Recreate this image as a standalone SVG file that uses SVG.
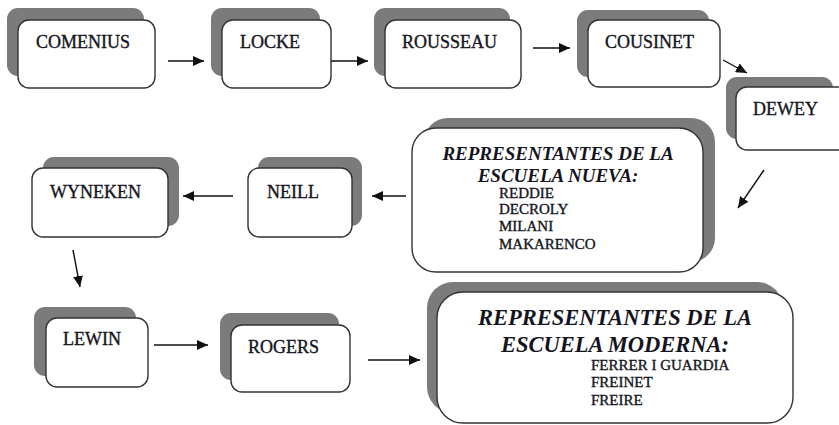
<svg xmlns="http://www.w3.org/2000/svg" width="839" height="425" viewBox="0 0 839 425">
  <style>
    .shadow { fill: #7b7b7b; }
    .box { fill: #ffffff; stroke: #333333; stroke-width: 1.4; }
    .name { font-family: "Liberation Serif", "Times New Roman", serif; font-size: 18px; fill: #141420; stroke: #141420; stroke-width: 0.35; }
    .head { font-family: "Liberation Serif", "Times New Roman", serif; font-weight: bold; font-style: italic; fill: #141420; text-anchor: middle; }
    .item { font-family: "Liberation Serif", "Times New Roman", serif; font-size: 15px; fill: #141420; stroke: #141420; stroke-width: 0.35; }
    .link { fill: none; stroke: #111111; stroke-width: 1.4; marker-end: url(#arrow); }
  </style>
  <defs>
    <marker id="arrow" markerUnits="userSpaceOnUse" markerWidth="12" markerHeight="10" refX="11" refY="5" orient="auto">
      <path d="M0,0 L11,5 L0,10 Z" fill="#111111"/>
    </marker>
  </defs>
  <rect width="839" height="425" fill="#ffffff"/>

  <g id="comenius">
    <rect class="shadow" x="7" y="8" width="137" height="68" rx="11"/>
    <rect class="box" x="18" y="20" width="137" height="68" rx="11"/>
    <text class="name" x="36" y="48">COMENIUS</text>
  </g>
  <g id="locke">
    <rect class="shadow" x="211" y="8" width="109" height="68" rx="11"/>
    <rect class="box" x="222" y="20" width="109" height="68" rx="11"/>
    <text class="name" x="240" y="48">LOCKE</text>
  </g>
  <g id="rousseau">
    <rect class="shadow" x="374" y="8" width="136" height="68" rx="11"/>
    <rect class="box" x="385" y="20" width="136" height="68" rx="11"/>
    <text class="name" x="402" y="48">ROUSSEAU</text>
  </g>
  <g id="cousinet">
    <rect class="shadow" x="577" y="10" width="132" height="67" rx="11"/>
    <rect class="box" x="588" y="20" width="132" height="67" rx="11"/>
    <text class="name" x="605" y="48">COUSINET</text>
  </g>
  <g id="dewey">
    <rect class="shadow" x="726" y="77" width="107" height="62" rx="11"/>
    <rect class="box" x="736" y="87" width="120" height="63" rx="11"/>
    <text class="name" x="753" y="115">DEWEY</text>
  </g>
  <g id="escuela-nueva">
    <rect class="shadow" x="424" y="118" width="291" height="144" rx="24"/>
    <rect class="box" x="412" y="128" width="291" height="144" rx="24"/>
    <text class="head" x="558" y="160" font-size="19">REPRESENTANTES DE LA</text>
    <text class="head" x="558" y="182" font-size="19">ESCUELA NUEVA:</text>
    <text class="item" x="499" y="198">REDDIE</text>
    <text class="item" x="499" y="214">DECROLY</text>
    <text class="item" x="499" y="231">MILANI</text>
    <text class="item" x="499" y="249">MAKARENCO</text>
  </g>
  <g id="neill">
    <rect class="shadow" x="258" y="157" width="104" height="69" rx="11"/>
    <rect class="box" x="248" y="168" width="104" height="69" rx="11"/>
    <text class="name" x="267" y="198">NEILL</text>
  </g>
  <g id="wyneken">
    <rect class="shadow" x="43" y="157" width="136" height="69" rx="11"/>
    <rect class="box" x="32" y="168" width="136" height="69" rx="11"/>
    <text class="name" x="50" y="198">WYNEKEN</text>
  </g>
  <g id="lewin">
    <rect class="shadow" x="34" y="307" width="102" height="69" rx="11"/>
    <rect class="box" x="46" y="318" width="102" height="69" rx="11"/>
    <text class="name" x="63" y="345">LEWIN</text>
  </g>
  <g id="rogers">
    <rect class="shadow" x="220" y="313" width="119" height="67" rx="11"/>
    <rect class="box" x="231" y="325" width="119" height="67" rx="11"/>
    <text class="name" x="248" y="353">ROGERS</text>
  </g>
  <g id="escuela-moderna">
    <rect class="shadow" x="427" y="282" width="356" height="131" rx="26"/>
    <rect class="box" x="437" y="292" width="356" height="131" rx="26"/>
    <text class="head" x="615" y="325" font-size="22.5">REPRESENTANTES DE LA</text>
    <text class="head" x="615" y="352" font-size="22.5">ESCUELA MODERNA:</text>
    <text class="item" x="591" y="370">FERRER I GUARDIA</text>
    <text class="item" x="591" y="387">FREINET</text>
    <text class="item" x="591" y="405">FREIRE</text>
  </g>

  <g id="connectors">
    <path class="link" d="M168,61 L204,61"/>
    <path class="link" d="M331,61 L368,61"/>
    <path class="link" d="M533,48 L570,48"/>
    <path class="link" d="M723,60 L747,73"/>
    <path class="link" d="M764,170 L738,208"/>
    <path class="link" d="M406,196 L372,196"/>
    <path class="link" d="M233,196 L183,196"/>
    <path class="link" d="M73,250 L80,287"/>
    <path class="link" d="M154,345 L208,345"/>
    <path class="link" d="M368,360 L420,360"/>
  </g>
</svg>
